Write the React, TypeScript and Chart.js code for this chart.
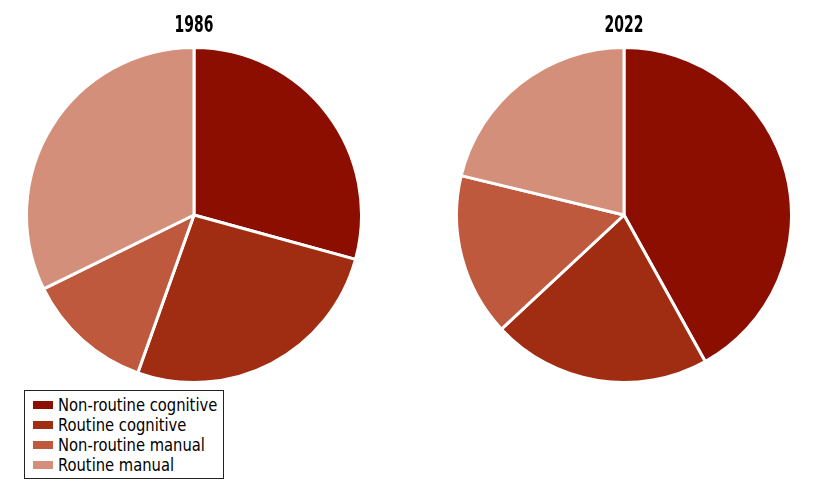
import React, { useEffect, useRef } from "react";
import { Chart, registerables } from "chart.js";

Chart.register(...registerables);

const categories = ["Non-routine cognitive", "Routine cognitive", "Non-routine manual", "Routine manual"];
const values1986 = [29.3, 26.2, 12.3, 32.3];
const values2022 = [41.9, 21.1, 15.7, 21.2];
const colors = ["#8B0E00", "#A02C12", "#BF593D", "#D38F7A"];

const FONT = "'DejaVu Sans Condensed', 'DejaVu Sans', sans-serif";

const condensedTitle = {
  id: "condensedTitle",
  afterDraw(chart: any, _args: any, opts: any) {
    const ctx = chart.ctx;
    ctx.save();
    ctx.fillStyle = "#000";
    ctx.font = `bold ${opts.size}px ${FONT}`;
    ctx.textAlign = "center";
    ctx.textBaseline = "alphabetic";
    ctx.translate(chart.width / 2, opts.y);
    ctx.scale(opts.scaleX, 1);
    ctx.fillText(opts.text, 0, 0);
    ctx.restore();
  },
};

function PieChart({ title, values, left }: { title: string; values: number[]; left: number }) {
  const ref = useRef<HTMLCanvasElement | null>(null);
  useEffect(() => {
    if (!ref.current) return;
    const chart = new Chart(ref.current, {
      type: "pie",
      data: {
        labels: categories,
        datasets: [
          {
            data: values,
            backgroundColor: colors,
            borderColor: "#ffffff",
            borderWidth: 3,
          },
        ],
      },
      options: {
        animation: false,
        responsive: false,
        maintainAspectRatio: false,
        layout: { padding: 0 },
        plugins: {
          legend: { display: false },
          tooltip: { enabled: false },
          title: {
            display: true,
            text: title,
            color: "rgba(0,0,0,0)",
            font: { family: FONT, size: 22, weight: "bold", lineHeight: 1.2 },
            padding: { top: 10, bottom: 9.6 },
          },
          condensedTitle: { text: title, size: 23.5, y: 31.5, scaleX: 0.66 },
        } as any,
      },
      plugins: [condensedTitle],
    });
    return () => chart.destroy();
  }, [title, values]);
  return (
    <canvas
      ref={ref}
      width={338}
      height={384}
      style={{ position: "absolute", left, top: 0, width: 338, height: 384 }}
    />
  );
}

export default function App() {
  return (
    <div style={{ position: "absolute", left: 0, top: 0, width: 815, height: 496, background: "#ffffff" }}>
      <PieChart title="1986" values={values1986} left={25} />
      <PieChart title="2022" values={values2022} left={455} />
      <div
        style={{
          position: "absolute",
          left: 24,
          top: 390,
          width: 200,
          height: 89,
          border: "1.5px solid #222",
          boxSizing: "border-box",
          fontFamily: FONT,
          fontSize: 18,
          color: "#000",
        }}
      >
        {categories.map((c, i) => (
          <div
            key={c}
            style={{ position: "absolute", left: 8, top: 4 + i * 20, height: 20, display: "flex", alignItems: "center", whiteSpace: "nowrap" }}
          >
            <span style={{ display: "inline-block", width: 20, height: 8, background: colors[i], marginRight: 5 }} />
            <span style={{ lineHeight: "20px", display: "inline-block", transform: "scaleX(0.91)", transformOrigin: "left center" }}>{c}</span>
          </div>
        ))}
      </div>
    </div>
  );
}
